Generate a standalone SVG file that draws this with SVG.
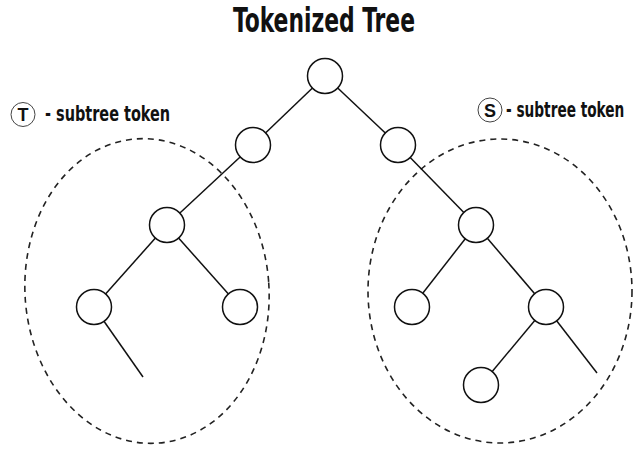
<svg xmlns="http://www.w3.org/2000/svg" width="634" height="452" viewBox="0 0 634 452">
<style>
.node{fill:#fff;stroke:#111;stroke-width:1.5}
.edge{stroke:#111;stroke-width:1.5;fill:none}
.region{fill:none;stroke:#222;stroke-width:1.6;stroke-dasharray:6 5}
.title{font-family:"DejaVu Sans Condensed","Liberation Sans Narrow","DejaVu Sans",sans-serif;font-stretch:condensed;font-weight:bold;font-size:34px;fill:#111}
.legend{font-family:"DejaVu Sans Condensed","Liberation Sans Narrow","DejaVu Sans",sans-serif;font-stretch:condensed;font-weight:600;font-size:21px;fill:#111}
.tok{font-family:"Liberation Sans","Arial",sans-serif;font-weight:bold;font-size:18px;fill:#111}
.tokc{fill:#fff;stroke:#444;stroke-width:1}
</style>
<rect width="634" height="452" fill="#fff"/>
<text class="title" x="233" y="32" textLength="182" lengthAdjust="spacingAndGlyphs">Tokenized Tree</text>
<g id="legend-T">
<circle class="tokc" cx="23" cy="114.5" r="12"/>
<text class="tok" x="23" y="121" text-anchor="middle">T</text>
<text class="legend" transform="translate(45 121) scale(0.68 1)" x="0" y="0" textLength="184" lengthAdjust="spacingAndGlyphs">- subtree token</text>
</g>
<g id="legend-S">
<circle class="tokc" cx="490" cy="110" r="12"/>
<text class="tok" x="490" y="116.5" text-anchor="middle">S</text>
<text class="legend" transform="translate(506 117) scale(0.68 1)" x="0" y="0" textLength="174" lengthAdjust="spacingAndGlyphs">- subtree token</text>
</g>
<g id="regions">
<ellipse id="region-T" class="region" cx="147" cy="291" rx="122" ry="152.5" transform="rotate(-4 147 291)"/>
<ellipse id="region-S" class="region" cx="500" cy="291" rx="132" ry="152"/>
</g>
<g id="connectors">
<line class="edge" x1="325" y1="76" x2="253" y2="145"/>
<line class="edge" x1="325" y1="76" x2="398" y2="145"/>
<line class="edge" x1="253" y1="145" x2="167" y2="225"/>
<line class="edge" x1="398" y1="145" x2="476" y2="225"/>
<line class="edge" x1="167" y1="225" x2="94" y2="307"/>
<line class="edge" x1="167" y1="225" x2="240" y2="307"/>
<line class="edge" x1="94" y1="307" x2="143" y2="377"/>
<line class="edge" x1="476" y1="225" x2="412" y2="307"/>
<line class="edge" x1="476" y1="225" x2="546" y2="307"/>
<line class="edge" x1="546" y1="307" x2="481" y2="385"/>
<line class="edge" x1="546" y1="307" x2="597" y2="373"/>
</g>
<g id="n-root"><circle class="node" cx="325" cy="76" r="17.5"/></g>
<g id="n-l1"><circle class="node" cx="253" cy="145" r="17.5"/></g>
<g id="n-r1"><circle class="node" cx="398" cy="145" r="17.5"/></g>
<g id="n-l2"><circle class="node" cx="167" cy="225" r="17.5"/></g>
<g id="n-l3a"><circle class="node" cx="94" cy="307" r="17.5"/></g>
<g id="n-l3b"><circle class="node" cx="240" cy="307" r="17.5"/></g>
<g id="n-r2"><circle class="node" cx="476" cy="225" r="17.5"/></g>
<g id="n-r3a"><circle class="node" cx="412" cy="307" r="17.5"/></g>
<g id="n-r3b"><circle class="node" cx="546" cy="307" r="17.5"/></g>
<g id="n-r4"><circle class="node" cx="481" cy="385" r="17.5"/></g>
</svg>
